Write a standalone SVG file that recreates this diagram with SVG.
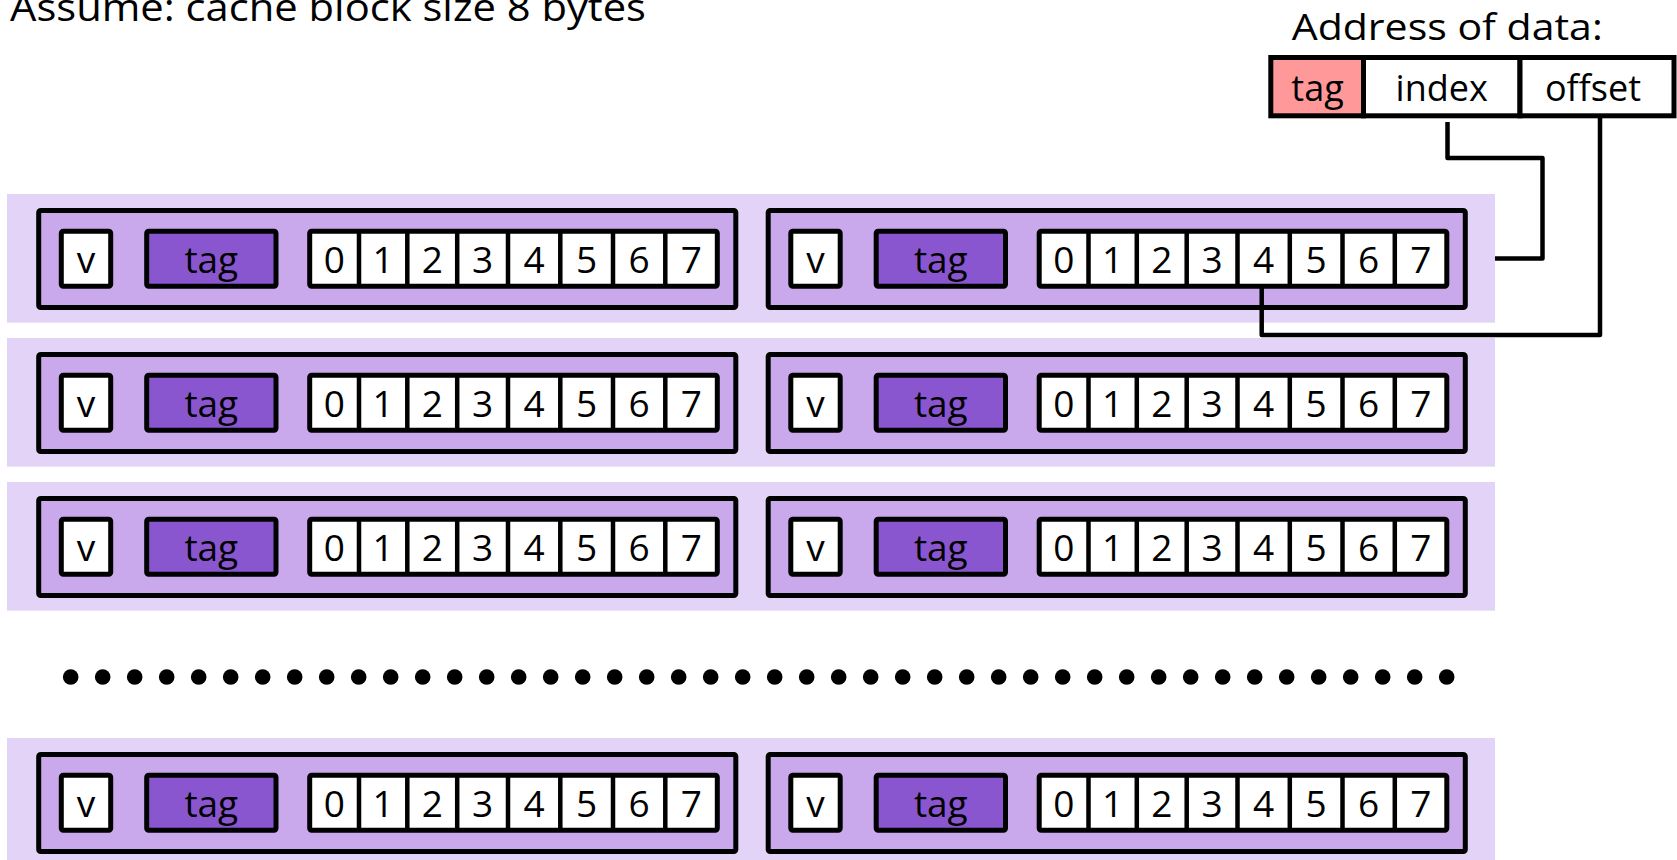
<svg xmlns="http://www.w3.org/2000/svg" width="1677" height="860" viewBox="0 0 1677 860">
<style>
text{font-family:"Open Sans","Noto Sans","Liberation Sans",sans-serif;font-size:36px;fill:#000}
.c{text-anchor:middle}
.cell{font-size:37px}
.band{fill:#E3D4F7}
.set{fill:#C9A8EC;stroke:#000;stroke-width:5}
.box{fill:#fff;stroke:#000;stroke-width:5}
.tag{fill:#8A56CF;stroke:#000;stroke-width:5}
.div{stroke:#000;stroke-width:4.5}
.wire{fill:none;stroke:#000;stroke-width:4.5;stroke-linejoin:round}
.dot{fill:#000}
</style>
<defs>
<g id="setTpl">
<rect class="set" x="38.7" y="16.5" width="697.1" height="97" rx="2"/>
<rect class="box" x="61.3" y="37.3" width="49.4" height="55" rx="2"/>
<rect class="tag" x="146.7" y="37.3" width="129.3" height="55" rx="2"/>
<rect class="box" x="309.7" y="37.3" width="407.6" height="55" rx="2"/>
<path class="div" d="M359,37.3V92.3M407.3,37.3V92.3M457.2,37.3V92.3M508,37.3V92.3M560.3,37.3V92.3M613,37.3V92.3M665.3,37.3V92.3"/>
<text class="c cell" x="86" y="79">v</text>
<text class="c cell" x="211.3" y="79">tag</text>
<text class="c cell" x="334.4" y="79">0</text>
<text class="c cell" x="383.2" y="79">1</text>
<text class="c cell" x="432.3" y="79">2</text>
<text class="c cell" x="482.6" y="79">3</text>
<text class="c cell" x="534.2" y="79">4</text>
<text class="c cell" x="586.7" y="79">5</text>
<text class="c cell" x="639.2" y="79">6</text>
<text class="c cell" x="691.3" y="79">7</text>
</g>
</defs>

<text id="title" x="10" y="21" textLength="636" lengthAdjust="spacingAndGlyphs" style="font-size:38px">Assume: cache block size 8 bytes</text>

<g id="address">
<text x="1291.7" y="39.5" textLength="311" lengthAdjust="spacingAndGlyphs">Address of data:</text>
<rect x="1270.8" y="57.5" width="92.7" height="58.3" fill="#FF9999" stroke="#000" stroke-width="5"/>
<rect x="1363.5" y="57.5" width="156.5" height="58.3" fill="#fff" stroke="#000" stroke-width="5"/>
<rect x="1520" y="57.5" width="154" height="58.3" fill="#fff" stroke="#000" stroke-width="5"/>
<text class="c" x="1317.5" y="101">tag</text>
<text class="c" x="1441.7" y="101">index</text>
<text class="c" x="1593" y="101">offset</text>
</g>

<g id="row1">
<rect class="band" x="7" y="194" width="1488" height="128.7"/>
<g id="row1-way0" transform="translate(0,194)"><use href="#setTpl"/></g>
<g id="row1-way1" transform="translate(729.5,194)"><use href="#setTpl"/></g>
</g>
<g id="row2">
<rect class="band" x="7" y="338" width="1488" height="128.7"/>
<g id="row2-way0" transform="translate(0,338)"><use href="#setTpl"/></g>
<g id="row2-way1" transform="translate(729.5,338)"><use href="#setTpl"/></g>
</g>
<g id="row3">
<rect class="band" x="7" y="482" width="1488" height="128.7"/>
<g id="row3-way0" transform="translate(0,482)"><use href="#setTpl"/></g>
<g id="row3-way1" transform="translate(729.5,482)"><use href="#setTpl"/></g>
</g>

<g id="ellipsis">
<circle class="dot" cx="70.7" cy="677" r="7.8"/><circle class="dot" cx="102.7" cy="677" r="7.8"/><circle class="dot" cx="134.7" cy="677" r="7.8"/><circle class="dot" cx="166.7" cy="677" r="7.8"/><circle class="dot" cx="198.7" cy="677" r="7.8"/><circle class="dot" cx="230.7" cy="677" r="7.8"/><circle class="dot" cx="262.7" cy="677" r="7.8"/><circle class="dot" cx="294.7" cy="677" r="7.8"/><circle class="dot" cx="326.7" cy="677" r="7.8"/><circle class="dot" cx="358.7" cy="677" r="7.8"/><circle class="dot" cx="390.7" cy="677" r="7.8"/>
<circle class="dot" cx="422.7" cy="677" r="7.8"/><circle class="dot" cx="454.7" cy="677" r="7.8"/><circle class="dot" cx="486.7" cy="677" r="7.8"/><circle class="dot" cx="518.7" cy="677" r="7.8"/><circle class="dot" cx="550.7" cy="677" r="7.8"/><circle class="dot" cx="582.7" cy="677" r="7.8"/><circle class="dot" cx="614.7" cy="677" r="7.8"/><circle class="dot" cx="646.7" cy="677" r="7.8"/><circle class="dot" cx="678.7" cy="677" r="7.8"/><circle class="dot" cx="710.7" cy="677" r="7.8"/><circle class="dot" cx="742.7" cy="677" r="7.8"/>
<circle class="dot" cx="774.7" cy="677" r="7.8"/><circle class="dot" cx="806.7" cy="677" r="7.8"/><circle class="dot" cx="838.7" cy="677" r="7.8"/><circle class="dot" cx="870.7" cy="677" r="7.8"/><circle class="dot" cx="902.7" cy="677" r="7.8"/><circle class="dot" cx="934.7" cy="677" r="7.8"/><circle class="dot" cx="966.7" cy="677" r="7.8"/><circle class="dot" cx="998.7" cy="677" r="7.8"/><circle class="dot" cx="1030.7" cy="677" r="7.8"/><circle class="dot" cx="1062.7" cy="677" r="7.8"/><circle class="dot" cx="1094.7" cy="677" r="7.8"/>
<circle class="dot" cx="1126.7" cy="677" r="7.8"/><circle class="dot" cx="1158.7" cy="677" r="7.8"/><circle class="dot" cx="1190.7" cy="677" r="7.8"/><circle class="dot" cx="1222.7" cy="677" r="7.8"/><circle class="dot" cx="1254.7" cy="677" r="7.8"/><circle class="dot" cx="1286.7" cy="677" r="7.8"/><circle class="dot" cx="1318.7" cy="677" r="7.8"/><circle class="dot" cx="1350.7" cy="677" r="7.8"/><circle class="dot" cx="1382.7" cy="677" r="7.8"/><circle class="dot" cx="1414.7" cy="677" r="7.8"/><circle class="dot" cx="1446.7" cy="677" r="7.8"/>
</g>

<g id="row4">
<rect class="band" x="7" y="738" width="1488" height="122"/>
<g id="row4-way0" transform="translate(0,738)"><use href="#setTpl"/></g>
<g id="row4-way1" transform="translate(729.5,738)"><use href="#setTpl"/></g>
</g>

<g id="connectors">
<path class="wire" d="M1447.5,122V158H1542.5V258.5H1495"/>
<path class="wire" d="M1600,116V335H1261.7V288"/>
</g>
</svg>
